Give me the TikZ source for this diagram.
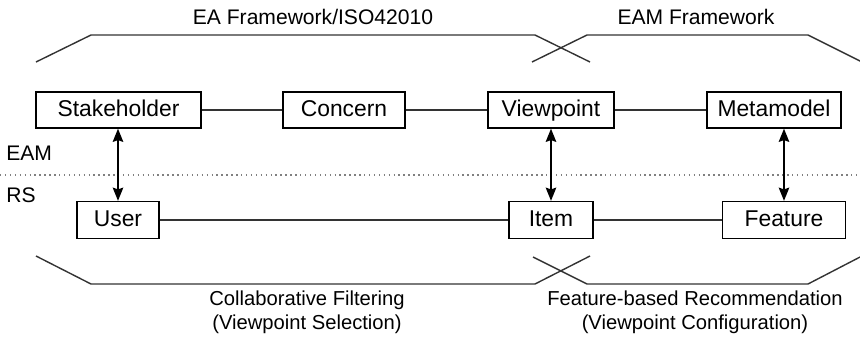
\documentclass[tikz,border=0pt]{standalone}
\usepackage{fontspec}
\setmainfont{Liberation Sans}
\usetikzlibrary{arrows.meta}

\tikzset{
  box/.style = {draw, thick, minimum height=0.72cm, inner sep=0pt, text height=0.72em, text depth=0.02em, font=\fontsize{13}{15}\selectfont},
  label/.style = {font=\fontsize{12}{14}\selectfont, inner sep=0pt},
  brace/.style = {draw=black!80, thick},
  link/.style = {draw=black!80, thick},
  biarrow/.style = {thick, {Stealth[length=7.5pt,width=6pt,inset=1pt]}-{Stealth[length=7.5pt,width=6pt,inset=1pt]}}
}

\begin{document}
\begin{tikzpicture}[x=0.02cm, y=-0.02cm]

    \useasboundingbox (0,0) rectangle (860,342);

    % Draw Frameworks
    \node[label] (ea)  at (313,17) {EA Framework/ISO42010};
    \node[label] (eam) at (696,17) {EAM Framework};
    \draw[brace] (36,62) -- (91,35) -- (535,35) -- (590,62);   % EA Framework
    \draw[brace] (532,62) -- (587,35) -- (808,35) -- (862,62); % EAM Framework

    % Draw EAM Row
    \node[box, minimum width=3.30cm] (stakeholder) at (118.5,110) {Stakeholder};
    \node[box, minimum width=2.44cm] (concern)     at (344,110)   {Concern};
    \node[box, minimum width=2.52cm] (viewpoint)   at (551,110)   {Viewpoint};
    \node[box, minimum width=2.68cm] (metamodel)   at (774,110)   {Metamodel};
    \draw[link] (stakeholder) -- (concern);
    \draw[link] (concern) -- (viewpoint);
    \draw[link] (viewpoint) -- (metamodel);

    % Draw Layers
    \draw[dotted, black!50, thick] (0,175) -- (860,175);
    \node[label, anchor=west] (eamlayer) at (6,153) {EAM};
    \node[label, anchor=west] (rslayer)  at (6,195) {RS};

    % Draw RS Row
    \node[box, minimum width=1.64cm, minimum height=0.74cm] (user)    at (118,220) {User};
    \node[box, minimum width=1.68cm, minimum height=0.74cm] (item)    at (551,220) {Item};
    \node[box, minimum width=2.46cm, minimum height=0.74cm] (feature) at (784,220) {Feature};
    \draw[link] (user) -- (item);
    \draw[link] (item) -- (feature);

    % Draw Mappings
    \draw[biarrow] (user.north) -- (user.north |- stakeholder.south);
    \draw[biarrow] (item.north) -- (item.north |- viewpoint.south);
    \draw[biarrow] (feature.north) -- (feature.north |- metamodel.south);

    % Draw Recommenders
    \draw[brace] (36,256) -- (91,284) -- (535,284) -- (590,256);   % Collaborative Filtering
    \draw[brace] (533,257) -- (587,284) -- (808,284) -- (862,256); % Feature-based
    \node[label, align=center, font=\fontsize{11.5}{13.5}\selectfont] (cf) at (307,312) {Collaborative Filtering\\(Viewpoint Selection)};
    \node[label, align=center, font=\fontsize{11.5}{13.5}\selectfont] (fb) at (695,312) {Feature-based Recommendation\\(Viewpoint Configuration)};
\end{tikzpicture}
\end{document}
